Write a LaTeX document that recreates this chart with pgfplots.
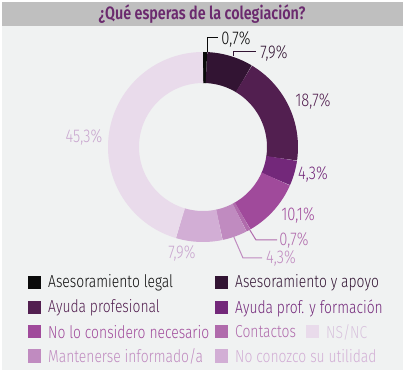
\documentclass[border=0pt]{standalone}
\usepackage{pgfplots}
\pgfplotsset{compat=1.18}
\usepgfplotslibrary{polar}
\usepackage{fontspec}
\setmainfont{Fira Sans}[UprightFont=* Light, BoldFont=* SemiBold, FakeStretch=0.8]
\definecolor{bg}{HTML}{F0F2F2}
\definecolor{bar}{HTML}{BFBFBF}
\definecolor{tit}{HTML}{6B2A6E}
\definecolor{c1}{HTML}{0A0A0A}
\definecolor{c2}{HTML}{321433}
\definecolor{c3}{HTML}{521F50}
\definecolor{c4}{HTML}{73287A}
\definecolor{c5}{HTML}{A04A9B}
\definecolor{c6}{HTML}{B06BAC}
\definecolor{c7}{HTML}{C08BC0}
\definecolor{c8}{HTML}{D2AED5}
\definecolor{c9}{HTML}{E9DBEB}
\definecolor{l9}{HTML}{C9A6CF}
\definecolor{t9}{HTML}{D8C2DD}
\begin{document}
\begin{tikzpicture}[x=1bp,y=1bp]
\path[use as bounding box] (0,0) rectangle (405,375);
\fill[white] (0,0) rectangle (405,375);
\fill[bg] (2,5) rectangle (403,373);
\fill[bar] (2,349) rectangle (403,373);
\node[font=\bfseries\fontsize{18}{20}\selectfont, text=tit] at (202,361) {¿Qué esperas de la colegiación?};
\begin{polaraxis}[at={(203bp,228bp)}, anchor=center, scale only axis, width=190bp, height=190bp,
  hide axis, ymin=0, ymax=95, clip=false]
% cumulative percentages (clockwise from top)
\addplot[draw=c1, line width=31bp, domain={90-3.6*0}:{90-3.6*0.7}, samples=5] {79.5};
\addplot[draw=c2, line width=31bp, domain={90-3.6*0.7}:{90-3.6*8.6}, samples=20] {79.5};
\addplot[draw=c3, line width=31bp, domain={90-3.6*8.6}:{90-3.6*27.3}, samples=40] {79.5};
\addplot[draw=c4, line width=31bp, domain={90-3.6*27.3}:{90-3.6*31.6}, samples=10] {79.5};
\addplot[draw=c5, line width=31bp, domain={90-3.6*31.6}:{90-3.6*41.7}, samples=20] {79.5};
\addplot[draw=c6, line width=31bp, domain={90-3.6*41.7}:{90-3.6*42.4}, samples=5] {79.5};
\addplot[draw=c7, line width=31bp, domain={90-3.6*42.4}:{90-3.6*46.7}, samples=10] {79.5};
\addplot[draw=c8, line width=31bp, domain={90-3.6*46.7}:{90-3.6*54.6}, samples=20] {79.5};
\addplot[draw=c9, line width=31bp, domain={90-3.6*54.6}:{90-3.6*100}, samples=80] {79.5};
\end{polaraxis}
\tikzset{lab/.style={font=\fontsize{18.5}{20}\selectfont, inner sep=0pt}}
\node[lab, text=c1] at (236,336) {0,7\%};
\node[lab, text=c2] at (274,322) {7,9\%};
\node[lab, text=c3] at (313,274) {18,7\%};
\node[lab, text=c4] at (313,201) {4,3\%};
\node[lab, text=c5] at (298,160) {10,1\%};
\node[lab, text=c6] at (294,135) {0,7\%};
\node[lab, text=c7] at (281,117) {4,3\%};
\node[lab, text=l9] at (84,238) {45,3\%};
\node[lab, text=l9] at (182,122) {7,9\%};
\draw[c1, line width=1bp] (207,323) -- (207,337) -- (218,337);
\draw[c2, line width=1bp] (233,319) -- (233,323) -- (256,323);
\draw[c6, line width=1bp] (248,148) -- (256,135) -- (277,135);
\draw[c7, line width=1bp] (233,140) -- (243,117) -- (262,117);
% legend
\tikzset{lt/.style={font=\fontsize{17.4}{19}\selectfont, inner sep=0pt, anchor=west}}
\foreach \x/\y/\c/\t/\tc in {28/92/c1/{Asesoramiento legal}/c1, 215/92/c2/{Asesoramiento y apoyo}/c2,
  28/67/c3/{Ayuda profesional}/c3, 215/67/c4/{Ayuda prof. y formación}/c4,
  28/43/c5/{No lo considero necesario}/c5, 215/43/c6/{Contactos}/c6, 306/43/c9/{NS/NC}/t9,
  28/19/c7/{Mantenerse informado/a}/c7, 215/19/c8/{No conozco su utilidad}/c8}{
  \fill[\c] (\x,\y-6.5) rectangle (\x+13,\y+6.5);
  \node[lt, text=\tc] at (\x+20,\y) {\t};
}
\end{tikzpicture}
\end{document}
